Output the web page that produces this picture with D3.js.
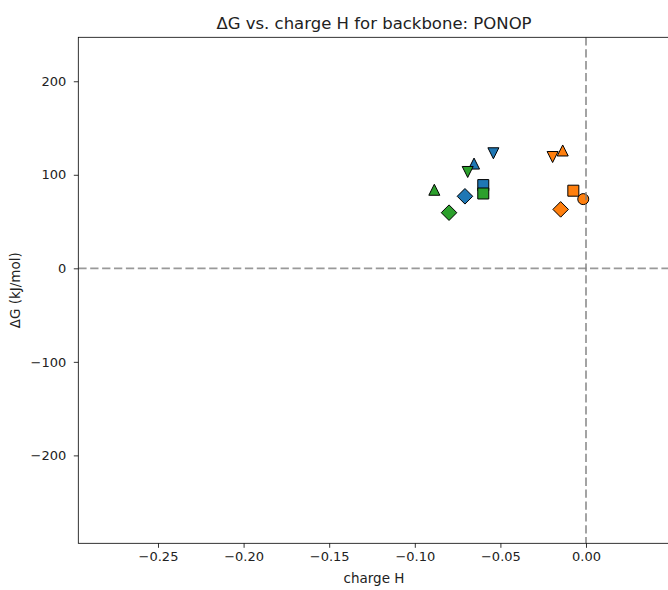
<!DOCTYPE html>
<html>
<head>
<meta charset="utf-8">
<script src="https://cdn.jsdelivr.net/npm/d3@7"></script>
<style>
  html, body { margin: 0; padding: 0; background: #fff; }
  svg { display: block; font-family: "DejaVu Sans", sans-serif; }
</style>
</head>
<body>
<script>
// Series: one array per colour group, each point has a marker shape
const seriesNames = ["C0", "C1", "C2"];
const seriesColors = ["#1f77b4", "#ff7f0e", "#2ca02c"];

const blueX = [-0.0600, -0.0707, -0.0654, -0.0541];
const blueY = [89, 77, 112, 123];
const blueMarkers = ["s", "D", "^", "v"];

const orangeX = [-0.0016, -0.0074, -0.0148, -0.0136, -0.0195];
const orangeY = [74, 83, 63, 126, 119];
const orangeMarkers = ["o", "s", "D", "^", "v"];

const greenX = [-0.0600, -0.0800, -0.0886, -0.0691];
const greenY = [80, 59.5, 84, 103];
const greenMarkers = ["s", "D", "^", "v"];

const xTicks = [-0.25, -0.20, -0.15, -0.10, -0.05, 0.00];
const yTicks = [-200, -100, 0, 100, 200];
const xDomain = [-0.29655, 0.04889];
const yDomain = [-294, 247];

const titleText = "\u0394G vs. charge H for backbone: PONOP";
const xLabel = "charge H";
const yLabel = "\u0394G (kJ/mol)";

// Layout
const W = 668, H = 590;
const plot = { left: 78.3, right: 669.7, top: 37.3, bottom: 543.3 };
const ms = 11; // marker size in px
const tickFont = "13px", labelFont = "13.5px", titleFont = "16.5px";

const svg = d3.select("body").append("svg").attr("width", W).attr("height", H);

const x = d3.scaleLinear().domain(xDomain).range([plot.left, plot.right]);
const y = d3.scaleLinear().domain(yDomain).range([plot.bottom, plot.top]);

const fmtMinus = s => s.replace("-", "\u2212");

// Marker paths centred on the origin
function markerPath(m) {
  const h = ms / 2;
  if (m === "s") return `M${-h},${-h}H${h}V${h}H${-h}Z`;
  if (m === "D") { const d = h * Math.SQRT2; return `M0,${-d}L${d},0L0,${d}L${-d},0Z`; }
  if (m === "^") return `M0,${-h}L${h},${h}L${-h},${h}Z`;
  if (m === "v") return `M0,${h}L${h},${-h}L${-h},${-h}Z`;
  if (m === "o") return d3.arc()({ innerRadius: 0, outerRadius: h, startAngle: 0, endAngle: 2 * Math.PI });
  return "";
}

const groups = [
  { xs: blueX, ys: blueY, ms: blueMarkers, color: seriesColors[0] },
  { xs: orangeX, ys: orangeY, ms: orangeMarkers, color: seriesColors[1] },
  { xs: greenX, ys: greenY, ms: greenMarkers, color: seriesColors[2] }
];

// Clip drawing area
svg.append("clipPath").attr("id", "clip")
  .append("rect").attr("x", plot.left).attr("y", plot.top)
  .attr("width", plot.right - plot.left).attr("height", plot.bottom - plot.top);

const body = svg.append("g").attr("clip-path", "url(#clip)");

// Points, drawn marker-type by marker-type in series order
const markerOrder = ["o", "s", "D", "^", "v"];
markerOrder.forEach(mk => {
  groups.forEach(g => {
    g.ms.forEach((m, i) => {
      if (m !== mk) return;
      body.append("path")
        .attr("d", markerPath(m))
        .attr("transform", `translate(${x(g.xs[i])},${y(g.ys[i])})`)
        .attr("fill", g.color)
        .attr("stroke", "#000")
        .attr("stroke-width", 1);
    });
  });
});

// Reference lines at zero
body.append("line")
  .attr("x1", x(0)).attr("x2", x(0)).attr("y1", plot.top).attr("y2", plot.bottom)
  .attr("stroke", "#808080").attr("stroke-opacity", 0.8)
  .attr("stroke-width", 1.8).attr("stroke-dasharray", "8.3,3.6");
body.append("line")
  .attr("x1", plot.left).attr("x2", plot.right).attr("y1", y(0)).attr("y2", y(0))
  .attr("stroke", "#808080").attr("stroke-opacity", 0.8)
  .attr("stroke-width", 1.8).attr("stroke-dasharray", "8.3,3.6");

// Axes
const xAxis = d3.axisBottom(x).tickValues(xTicks).tickSize(4.5).tickPadding(4)
  .tickFormat(d => fmtMinus(d3.format(".2f")(d)));
const yAxis = d3.axisLeft(y).tickValues(yTicks).tickSize(4.5).tickPadding(7.5)
  .tickFormat(d => fmtMinus(d3.format("d")(d)));

const gx = svg.append("g").attr("transform", `translate(0,${plot.bottom})`).call(xAxis);
const gy = svg.append("g").attr("transform", `translate(${plot.left},0)`).call(yAxis);
[gx, gy].forEach(g => {
  g.select(".domain").remove();
  g.selectAll(".tick line").attr("stroke", "#000").attr("stroke-width", 0.8);
  g.selectAll(".tick text").attr("fill", "#222").style("font-size", tickFont)
    .style("font-family", "DejaVu Sans");
});

// Spines
const spine = svg.append("g").attr("fill", "none").attr("stroke", "#000").attr("stroke-width", 0.8);
spine.append("rect").attr("x", plot.left).attr("y", plot.top)
  .attr("width", plot.right - plot.left).attr("height", plot.bottom - plot.top);

// Title and labels
svg.append("text").attr("x", (plot.left + plot.right) / 2).attr("y", 28.5)
  .attr("text-anchor", "middle").style("font-size", titleFont).attr("fill", "#222")
  .text(titleText);
svg.append("text").attr("x", (plot.left + plot.right) / 2).attr("y", 583)
  .attr("text-anchor", "middle").style("font-size", labelFont).attr("fill", "#222")
  .text(xLabel);
svg.append("text")
  .attr("transform", `translate(20,${(plot.top + plot.bottom) / 2}) rotate(-90)`)
  .attr("text-anchor", "middle").style("font-size", labelFont).attr("fill", "#222")
  .text(yLabel);
</script>
</body>
</html>
